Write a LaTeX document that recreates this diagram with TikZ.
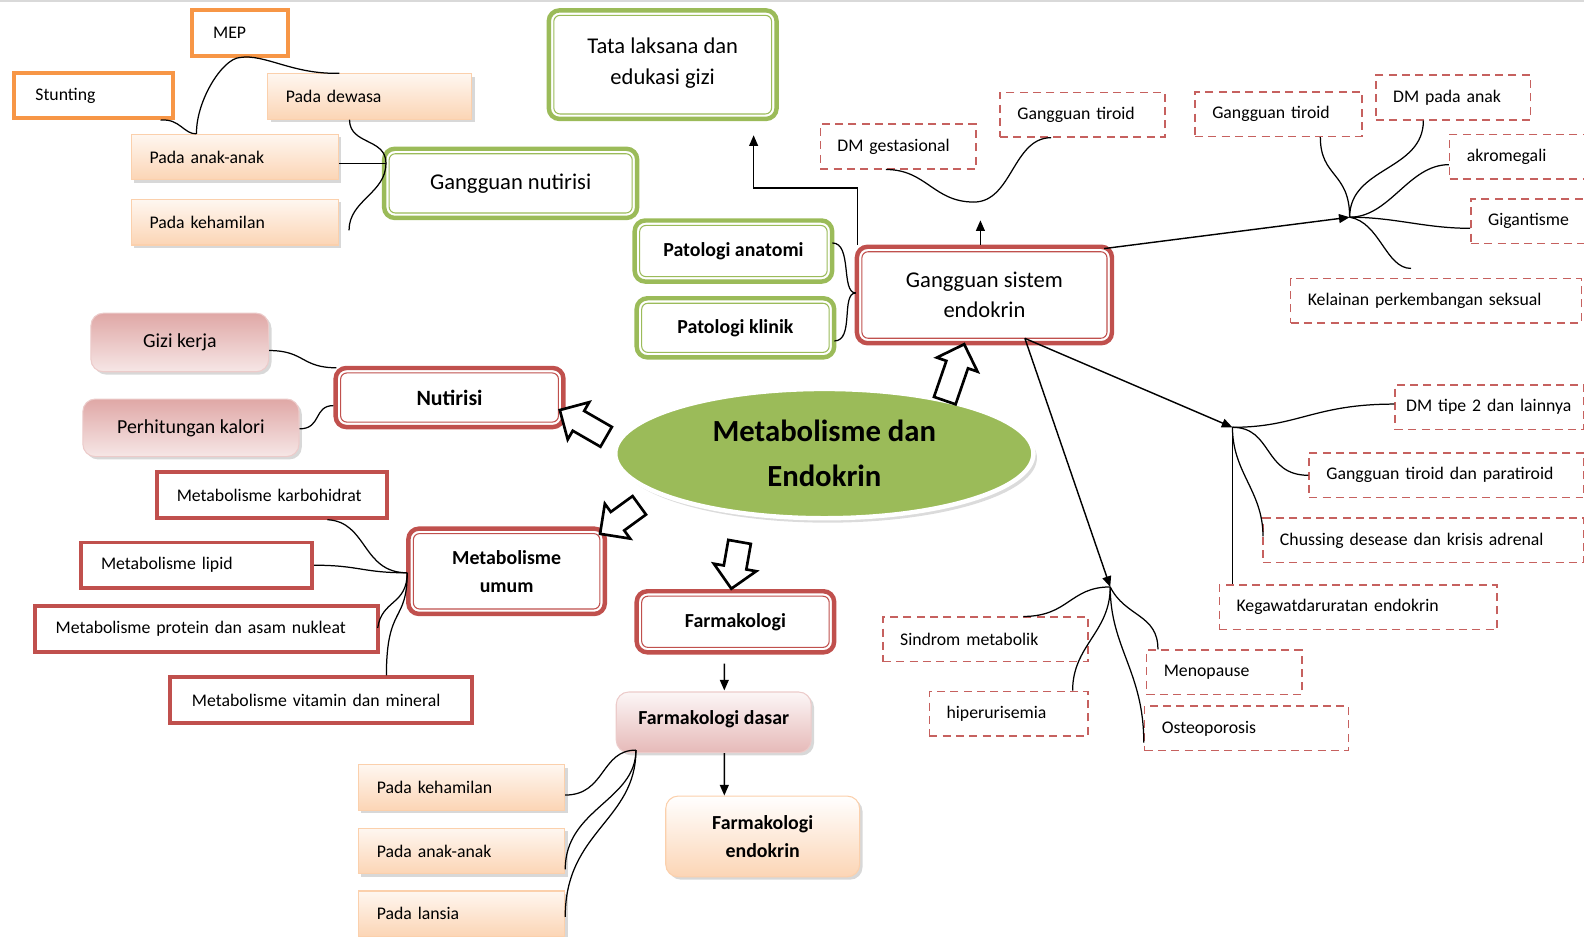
\documentclass[tikz,border=0pt]{standalone}
\usepackage{fontspec}
\setmainfont{Carlito}
\usetikzlibrary{positioning, shapes.geometric, shapes.arrows, shadows, arrows.meta}
\definecolor{grn}{HTML}{9BBB59}
\definecolor{rdc}{HTML}{C0504D}
\definecolor{orng}{HTML}{F79646}

\begin{document}
\begin{tikzpicture}[
  x=0.02cm, y=-0.02cm,
  sml/.style={font=\fontsize{10}{12}\selectfont},
  mdr/.style={font=\fontsize{11.2}{15}\selectfont},
  med/.style={font=\fontsize{11.2}{15.9}\selectfont\bfseries},
  big/.style={font=\fontsize{12.7}{17}\selectfont},
  dbl/.style={path picture={\draw[#1, line width=0.6pt, rounded corners=3.5pt]
      ([shift={(2.8pt,-2.8pt)}]path picture bounding box.north west) rectangle
      ([shift={(-2.8pt,2.8pt)}]path picture bounding box.south east);}},
  obox/.style={draw=orng, line width=2.2pt, fill=white, sml, minimum height=0.9cm,
               inner xsep=0.42cm, align=left},
  pbox/.style={draw=orng!45!white, line width=0.6pt, top color=orng!8!white,
               bottom color=orng!40!white, sml, minimum height=0.9cm, inner xsep=0.36cm,
               align=left, drop shadow={shadow xshift=1.6pt, shadow yshift=-1.6pt, fill=black!30}},
  gbox/.style={draw=grn, line width=2.5pt, fill=white, rounded corners=6pt, align=center, dbl=grn},
  rbox/.style={draw=rdc, line width=2.5pt, fill=white, rounded corners=6pt, align=center, dbl=rdc},
  rrect/.style={draw=rdc, line width=2.2pt, fill=white, sml, minimum height=0.9cm,
                inner xsep=0.4cm, align=left},
  dbox/.style={draw=rdc!90, line width=0.9pt, dash pattern=on 4.5pt off 3pt, fill=white, sml,
               minimum height=0.88cm, inner xsep=0.34cm, align=left},
  kbox/.style={draw=rdc!30!white, line width=0.6pt, rounded corners=7pt, top color=rdc!50!white,
               bottom color=rdc!14!white, align=center,
               drop shadow={shadow xshift=1.6pt, shadow yshift=-1.6pt, fill=black!30}},
  fbox/.style={rounded corners=7pt, align=center,
               drop shadow={shadow xshift=1.6pt, shadow yshift=-1.6pt, fill=black!30}},
  barr/.style={single arrow, draw=black, line width=1.5pt, fill=white, inner sep=0.2cm,
               single arrow head extend=0.2cm},
  arr/.style={-{Triangle[length=6pt, width=5pt]}, line width=0.8pt},
  crv/.style={line width=0.7pt}
]
  \useasboundingbox (0,0) rectangle (1568,927);
  \clip (0,0) rectangle (1568,927);
  \draw[black!15, line width=1.2pt] (0,1) -- (1568,1);

  %% nutrition disorders (top left)
  \node[obox, text width=1.06cm] (mep) at (237.5,32.5) {MEP};
  \node[obox, text width=2.30cm] (stu) at (92.5,94.5) {Stunting};
  \node[pbox, text width=3.32cm] (dew) at (366,95.5) {Pada dewasa};
  \node[pbox, text width=3.38cm] (ank) at (232.5,155.5) {Pada anak-anak};
  \node[pbox, text width=3.38cm] (hml) at (232.5,220) {Pada kehamilan};
  \node[gbox, big, minimum width=5.01cm, minimum height=1.37cm] (gnu) at (505.5,181.5) {Gangguan nutirisi};
  \node[gbox, big, minimum width=4.51cm, minimum height=2.15cm] (tls) at (656,64) {Tata laksana dan\\edukasi gizi\rule[-4pt]{0pt}{4pt}};
  \node[gbox, med, minimum width=3.91cm, minimum height=1.21cm] (pan) at (726,248.5) {Patologi anatomi};
  \node[gbox, med, minimum width=3.91cm, minimum height=1.17cm] (pkl) at (728,324.5) {Patologi klinik};

  %% endocrine disorders (top right)
  \node[rbox, big, minimum width=5.05cm, minimum height=1.91cm] (gse) at (974.5,292) {Gangguan sistem\\endokrin};
  \node[dbox, text width=2.40cm] (dmg) at (889,145) {DM gestasional};
  \node[dbox, text width=2.58cm] (tr1) at (1071.5,113.5) {Gangguan tiroid};
  \node[dbox, text width=2.62cm] (tr2) at (1265.5,113) {Gangguan tiroid};
  \node[dbox, text width=2.38cm] (dma) at (1438.5,96.5) {DM pada anak};
  \node[dbox, text width=2.12cm] (akr) at (1505,155) {akromegali};
  \node[dbox, text width=1.70cm] (gig) at (1515.5,219) {Gigantisme};
  \node[dbox, text width=5.08cm] (kps) at (1421.5,297.5) {Kelainan perkembangan seksual};

  %% nutrition and metabolism (left)
  \node[kbox, mdr, minimum width=3.52cm, minimum height=1.16cm] (gzk) at (178,339) {Gizi kerja};
  \node[kbox, mdr, minimum width=4.28cm, minimum height=1.14cm] (hkl) at (189,423.5) {Perhitungan kalori};
  \node[rbox, font=\fontsize{12.3}{15}\selectfont\bfseries, minimum width=4.51cm, minimum height=1.17cm] (nut) at (445,393.5) {Nutirisi};
  \node[rrect, text width=3.76cm] (mkh) at (269,490) {Metabolisme karbohidrat};
  \node[rrect, text width=3.78cm] (mlp) at (194.5,559.5) {Metabolisme lipid};
  \node[rrect, text width=5.98cm] (mpr) at (204.5,622.5) {Metabolisme protein dan asam nukleat};
  \node[rrect, text width=5.10cm, inner xsep=0.44cm] (mvm) at (317.5,693) {Metabolisme vitamin dan mineral};
  \node[rbox, med, minimum width=3.89cm, minimum height=1.69cm] (mum) at (501.5,565.5) {Metabolisme\\umum};

  %% centre
  \node[ellipse, fill=grn, draw=white, line width=2.5pt, inner sep=0pt,
        drop shadow={shadow xshift=2pt, shadow yshift=-2.5pt, fill=black!28},
        minimum width=8.28cm, minimum height=2.56cm, align=center,
        font=\fontsize{17.3}{25.5}\selectfont\bfseries] (me) at (816,449) {Metabolisme dan\\Endokrin};

  %% pharmacology (bottom)
  \node[rbox, med, minimum width=3.91cm, minimum height=1.21cm] (frm) at (728,615.5) {Farmakologi};
  \node[kbox, med, top color=rdc!5!white, bottom color=rdc!40!white, minimum width=3.86cm, minimum height=1.2cm] (fds) at (706.5,715) {Farmakologi dasar\rule[-5pt]{0pt}{5pt}};
  \node[fbox, med, draw=orng!45!white, line width=0.6pt, top color=white, bottom color=orng!40!white,
        minimum width=3.84cm, minimum height=1.6cm] (fen) at (755,828) {Farmakologi\\endokrin};
  \node[pbox, text width=3.36cm] (hm2) at (457,779.5) {Pada kehamilan};
  \node[pbox, text width=3.36cm] (an2) at (457,842.5) {Pada anak-anak};
  \node[pbox, text width=3.36cm] (lns) at (457,904.5) {Pada lansia};

  %% endocrine and metabolic disorders (bottom right)
  \node[dbox, text width=3.30cm, inner xsep=0.22cm] (dm2) at (1474.5,403) {DM tipe 2 dan lainnya};
  \node[dbox, text width=4.76cm] (tpt) at (1432,470.5) {Gangguan tiroid dan paratiroid};
  \node[dbox, text width=5.68cm] (cus) at (1409,535) {Chussing desease dan krisis adrenal};
  \node[dbox, text width=4.82cm] (kgd) at (1344.5,601) {Kegawatdaruratan endokrin};
  \node[dbox, text width=3.38cm] (sme) at (975.5,633) {Sindrom metabolik};
  \node[dbox, text width=2.46cm] (hpu) at (998.5,706.5) {hiperurisemia};
  \node[dbox, text width=2.40cm] (mnp) at (1212,665.5) {Menopause};
  \node[dbox, text width=3.36cm] (ost) at (1234,721) {Osteoporosis};

  %% block arrows out of the centre
  \node[barr, rotate=150, minimum height=1.06cm] (bnu) at (582,422) {};
  \node[barr, rotate=216, minimum height=0.96cm] (bmu) at (618,511) {};
  \node[barr, rotate=260, minimum height=0.94cm] (bfa) at (729,554) {};
  \node[barr, rotate=71, minimum height=1.18cm] (bgs) at (943,374) {};

  %% junctions
  \coordinate (jst) at ([shift={(-38,0)}]ank.north);
  \coordinate (jnu) at ([shift={(4,-20)}]gnu.west);
  \coordinate (jpt) at ([shift={(1,-2)}]gse.west);
  \coordinate (jg1) at (964,200);
  \coordinate (jg2) at (1336,215);
  \coordinate (jg3) at (1220,423);
  \coordinate (jg4) at (1099,581);
  \coordinate (gsb) at ([shift={(40,-7)}]gse.south);
  \coordinate (jmu) at ([shift={(1,1.5)}]mum.west);
  \coordinate (jfd) at ([shift={(20,-3)}]fds.south west);

  %% MEP / Stunting -> Pada anak-anak, MEP -> Pada dewasa
  \draw[crv] (mep.south) .. controls (220,58) and (194,100) .. (jst);
  \draw[crv] ([shift={(-14,0)}]stu.south east) .. controls (178,117) and (182,133) .. (jst);
  \draw[crv] (mep.south) .. controls (262,53) and (290,74) .. ([shift={(-30,0)}]dew.north);

  %% Gangguan nutirisi brace
  \draw[crv] ([shift={(-20,0)}]dew.south) .. controls +(0,25) and +(0,-25) .. (jnu);
  \draw[crv] (jnu) .. controls +(0,30) and +(0,-30) .. ([shift={(10,8)}]hml.east);
  \draw[crv] (ank.east |- jnu) -- (jnu);

  %% Patologi brace
  \draw[crv] ([shift={(-2,-8)}]pan.east) .. controls +(20,0) and +(-15,0) .. (jpt);
  \draw[crv] (jpt) .. controls +(-15,0) and +(20,0) .. ([shift={(-2,13)}]pkl.east);

  %% gse -> Tata laksana
  \draw[arr] ([shift={(3,0)}]gse.north west) -- ++(0,-56) -| ([shift={(90,14)}]tls.south);

  %% gse -> pregnancy junction
  \draw[arr] ([shift={(-4,0)}]gse.north) -- ++(0,-24);
  \draw[crv] ([shift={(-12,0)}]dmg.south) .. controls +(40,0) and +(-40,0) .. (jg1);
  \draw[crv] ([shift={(-31,0)}]tr1.south) .. controls +(-38,0) and +(38,0) .. (jg1);

  %% gse -> paediatric junction
  \draw[arr] ([shift={(-10,4)}]gse.north east) -- (jg2);
  \draw[crv] ([shift={(41.5,0)}]tr2.south) .. controls +(0,40) and +(0,-45) .. (jg2);
  \draw[crv] ([shift={(-29.5,0)}]dma.south) .. controls +(0,50) and +(0,-50) .. (jg2);
  \draw[crv] ([shift={(0,8)}]akr.west) .. controls +(-40,0) and +(40,0) .. (jg2);
  \draw[crv] (jg2) .. controls +(45,0) and +(-45,0) .. ([shift={(0,7)}]gig.west);
  \draw[crv] (jg2) .. controls +(30,5) and +(-25,0) .. ([shift={(120,-9)}]kps.north west);

  %% gse -> adult junction
  \draw[arr] (gsb) -- (jg3);
  \draw[crv] (jg3) .. controls +(65,0) and +(-80,0) .. ([shift={(0,-3)}]dm2.west);
  \draw[crv] (jg3) .. controls +(40,0) and +(-45,0) .. (tpt.west);
  \draw[crv] (jg3) .. controls +(0,45) and +(0,-45) .. ([shift={(1,-4)}]cus.west);
  \draw[crv] (jg3) -- (jg3 |- kgd.north);

  %% gse -> metabolic junction
  \draw[arr] (gsb) -- (jg4);
  \draw[crv] (jg4) .. controls +(-40,0) and +(45,0) .. ([shift={(37.5,0)}]sme.north);
  \draw[crv] (jg4) .. controls +(0,45) and +(0,-45) .. ([shift={(-16,0)}]hpu.north east);
  \draw[crv] (jg4) .. controls +(15,30) and +(0,-35) .. ([shift={(12,0)}]mnp.north west);
  \draw[crv] (jg4) .. controls +(0,60) and +(0,-70) .. ([shift={(0,14)}]ost.west);

  %% Nutirisi branches
  \draw[crv] ([shift={(0,8)}]gzk.east) .. controls +(35,0) and +(-35,0) .. ([shift={(3,2)}]nut.north west);
  \draw[crv] ([shift={(0,1)}]hkl.east) .. controls +(22,0) and +(-20,0) .. ([shift={(0,8)}]nut.west);

  %% Metabolisme umum branches
  \draw[crv] ([shift={(55,0)}]mkh.south) .. controls +(40,2) and +(-45,0) .. (jmu);
  \draw[crv] (mlp.east) .. controls +(45,0) and +(-45,0) .. (jmu);
  \draw[crv] ([shift={(-2,-1)}]mpr.east) .. controls +(4,-28) and +(0,32) .. (jmu);
  \draw[crv] ([shift={(65,0)}]mvm.north) .. controls +(0,-70) and +(0,50) .. (jmu);

  %% Farmakologi
  \draw[arr] ([shift={(-11,9)}]frm.south) -- ([shift={(10.5,-1)}]fds.north);
  \draw[arr] ([shift={(10.5,0)}]fds.south) -- ([shift={(-38,0)}]fen.north);
  \draw[crv] (jfd) .. controls +(-35,0) and +(40,0) .. ([shift={(0,7.5)}]hm2.east);
  \draw[crv] (jfd) .. controls +(0,50) and +(0,-60) .. ([shift={(0,18)}]an2.east);
  \draw[crv] (jfd) .. controls +(0,70) and +(0,-85) .. ([shift={(0,3)}]lns.east);
\end{tikzpicture}
\end{document}
